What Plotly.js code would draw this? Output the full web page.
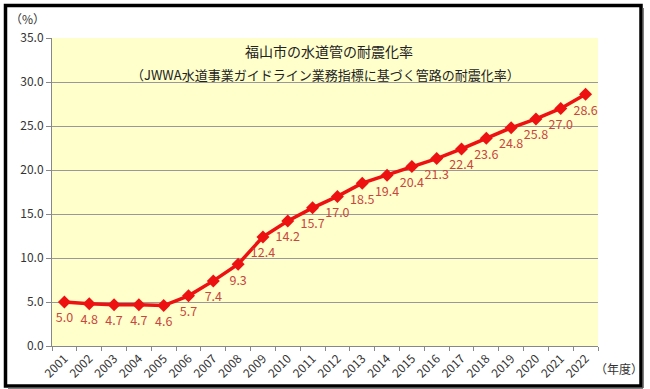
<!DOCTYPE html>
<html>
<head>
<meta charset="utf-8">
<script src="https://cdn.plot.ly/plotly-3.0.1.min.js"></script>
<style>html,body{margin:0;padding:0;background:#fff;}#chart{width:650px;height:389px;}</style>
</head>
<body>
<div id="chart"></div>
<script>
const years = ["2001","2002","2003","2004","2005","2006","2007","2008","2009","2010","2011","2012","2013","2014","2015","2016","2017","2018","2019","2020","2021","2022"];
const rates = [5.0,4.8,4.7,4.7,4.6,5.7,7.4,9.3,12.4,14.2,15.7,17.0,18.5,19.4,20.4,21.3,22.4,23.6,24.8,25.8,27.0,28.6];
const yTicks = [0,5,10,15,20,25,30,35];
const titleLine1 = "福山市の水道管の耐震化率";
const titleLine2 = "（JWWA水道事業ガイドライン業務指標に基づく管路の耐震化率）";
const yUnit = "（%）";
const xUnit = "（年度）";

const FONT = "'Noto Sans CJK JP', 'DejaVu Sans', sans-serif";
const W = 650, H = 389, L = 52, R = 52, T = 38, B = 43;
const pw = W - L - R, ph = H - T - B;
const px = v => (v - L) / pw;
const py = v => (H - B - v) / ph;

const lineTrace = {
  x: years,
  y: rates,
  type: 'scatter',
  mode: 'lines+markers',
  line: {color: '#ee1111', width: 3.5},
  marker: {symbol: 'diamond', size: 10, color: '#ee1111'},
  hoverinfo: 'x+y'
};

const labelTrace = {
  x: years,
  y: rates,
  type: 'scatter',
  mode: 'markers+text',
  marker: {size: 16, color: 'rgba(0,0,0,0)'},
  text: rates.map(v => v.toFixed(1)),
  textposition: 'bottom center',
  textfont: {family: FONT, size: 12.5, color: '#c9463d'},
  cliponaxis: false,
  hoverinfo: 'skip'
};

const layout = {
  width: W, height: H,
  margin: {l: L, r: R, t: T, b: B, pad: 0},
  paper_bgcolor: '#ffffff',
  plot_bgcolor: '#ffffcc',
  showlegend: false,
  font: {family: FONT, size: 12, color: '#333333'},
  title: {
    text: titleLine1,
    font: {family: FONT, size: 14, color: '#222222'},
    x: px(329), xref: 'paper', xanchor: 'center',
    y: 1 - 52 / H, yref: 'container', yanchor: 'middle'
  },
  xaxis: {
    type: 'category',
    range: [-0.5, years.length - 0.5],
    autorange: false,
    tickangle: -45,
    ticks: 'outside',
    tickson: 'boundaries',
    ticklen: 4,
    tickcolor: '#888888',
    showline: true,
    linecolor: '#888888',
    linewidth: 1,
    showgrid: false,
    tickfont: {family: FONT, size: 12, color: '#333333'},
    fixedrange: true
  },
  yaxis: {
    range: [0, 35],
    autorange: false,
    tickvals: yTicks,
    ticktext: yTicks.map(v => v.toFixed(1)),
    ticks: 'outside',
    ticklen: 5,
    tickcolor: '#888888',
    showline: true,
    linecolor: '#888888',
    linewidth: 1,
    showgrid: true,
    gridcolor: '#999999',
    gridwidth: 1,
    zeroline: false,
    tickfont: {family: FONT, size: 12, color: '#333333'},
    fixedrange: true
  },
  annotations: [
    {text: titleLine2, xref: 'paper', yref: 'paper', x: px(325), y: py(74), xanchor: 'center', yanchor: 'middle', showarrow: false, font: {family: FONT, size: 13, color: '#222222'}},
    {text: yUnit, xref: 'paper', yref: 'paper', x: px(27), y: py(18), xanchor: 'center', yanchor: 'middle', showarrow: false, font: {family: FONT, size: 12, color: '#333333'}},
    {text: xUnit, xref: 'paper', yref: 'paper', x: px(619), y: py(368), xanchor: 'center', yanchor: 'middle', showarrow: false, font: {family: FONT, size: 12, color: '#333333'}}
  ],
  shapes: [
    {type: 'rect', xref: 'paper', yref: 'paper', x0: px(5.5), x1: px(641), y0: py(386), y1: py(5.5), line: {color: '#000000', width: 3.5}, layer: 'above'},
    {type: 'line', xref: 'paper', yref: 'paper', x0: px(643), x1: px(643), y0: py(388), y1: py(8), line: {color: '#555555', width: 1.5}},
    {type: 'line', xref: 'paper', yref: 'paper', x0: px(8), x1: px(643), y0: py(388), y1: py(388), line: {color: '#555555', width: 1.5}}
  ]
};

Plotly.newPlot('chart', [lineTrace, labelTrace], layout, {displayModeBar: false, staticPlot: true});
</script>
</body>
</html>
